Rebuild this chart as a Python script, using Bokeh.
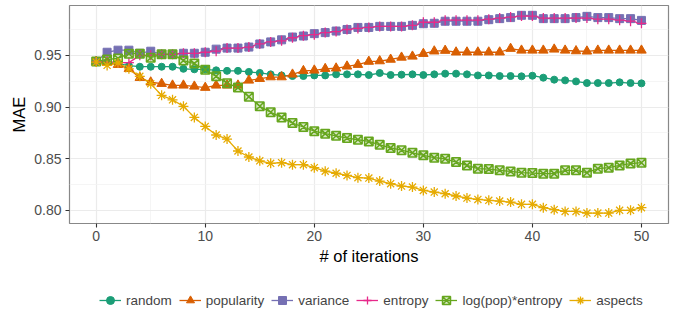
from bokeh.plotting import figure
from bokeh.layouts import column
from bokeh.models import Legend, LegendItem, FixedTicker, Range1d, NumeralTickFormatter
from bokeh.embed import file_html
from bokeh.resources import INLINE

iterations = list(range(51))

random_mae = [0.944, 0.943, 0.942, 0.940, 0.939, 0.939, 0.939, 0.939, 0.937, 0.9365,
              0.9365, 0.9355, 0.935, 0.935, 0.934, 0.933, 0.9316, 0.9306, 0.930, 0.930,
              0.9306, 0.9306, 0.9316, 0.9316, 0.9316, 0.931, 0.9329, 0.931, 0.9313, 0.9316,
              0.931, 0.9316, 0.9323, 0.9323, 0.9316, 0.9306, 0.9306, 0.930, 0.930, 0.9297,
              0.9303, 0.9284, 0.9265, 0.9258, 0.9248, 0.9232, 0.9232, 0.9232, 0.9239, 0.9232,
              0.9229]
popularity_mae = [0.944, 0.943, 0.941, 0.937, 0.9284, 0.924, 0.9226, 0.921, 0.921, 0.920,
                  0.9188, 0.921, 0.921, 0.921, 0.9258, 0.9274, 0.929, 0.929, 0.9316, 0.935,
                  0.9355, 0.937, 0.9375, 0.9394, 0.941, 0.944, 0.9445, 0.946, 0.948, 0.949,
                  0.9516, 0.954, 0.9546, 0.953, 0.953, 0.953, 0.953, 0.953, 0.9565, 0.9548,
                  0.9548, 0.9548, 0.9558, 0.9548, 0.9542, 0.9539, 0.9548, 0.9548, 0.9548, 0.9548,
                  0.9548]
variance_mae = [0.944, 0.953, 0.955, 0.955, 0.952, 0.954, 0.951, 0.951, 0.952, 0.952,
                0.953, 0.956, 0.957, 0.957, 0.958, 0.961, 0.963, 0.965, 0.9677, 0.9687,
                0.971, 0.972, 0.9735, 0.975, 0.977, 0.977, 0.978, 0.978, 0.978, 0.979,
                0.9806, 0.981, 0.983, 0.983, 0.983, 0.983, 0.9845, 0.9855, 0.9865, 0.9887,
                0.9887, 0.9855, 0.9855, 0.9855, 0.9865, 0.9877, 0.9865, 0.9865, 0.9855, 0.9855,
                0.9838]
entropy_mae = [0.944, 0.944, 0.943, 0.943, 0.950, 0.950, 0.951, 0.951, 0.952, 0.952,
               0.953, 0.954, 0.957, 0.957, 0.958, 0.961, 0.963, 0.964, 0.967, 0.969,
               0.970, 0.972, 0.973, 0.975, 0.976, 0.977, 0.978, 0.978, 0.978, 0.979,
               0.982, 0.982, 0.984, 0.984, 0.984, 0.984, 0.985, 0.986, 0.987, 0.988,
               0.988, 0.986, 0.986, 0.986, 0.986, 0.986, 0.985, 0.985, 0.984, 0.983,
               0.981]
logpop_entropy_mae = [0.944, 0.946, 0.947, 0.9516, 0.9516, 0.9477, 0.951, 0.951, 0.945, 0.942,
                      0.936, 0.9297, 0.923, 0.9188, 0.910, 0.9007, 0.895, 0.890, 0.8845, 0.8807,
                      0.8767, 0.8743, 0.8722, 0.870, 0.8684, 0.8668, 0.8635, 0.8605, 0.8583, 0.8558,
                      0.8533, 0.851, 0.850, 0.8468, 0.8436, 0.8404, 0.8400, 0.8388, 0.8378, 0.8365,
                      0.8362, 0.8356, 0.8356, 0.8388, 0.8388, 0.8365, 0.8404, 0.8414, 0.8436, 0.8453,
                      0.8462]
aspects_mae = [0.9435, 0.9403, 0.9426, 0.937, 0.9297, 0.9226, 0.9113, 0.907, 0.9007, 0.890,
               0.8813, 0.873, 0.869, 0.8575, 0.8517, 0.848, 0.8456, 0.8462, 0.8443, 0.8443,
               0.8414, 0.838, 0.836, 0.8339, 0.8317, 0.8313, 0.8284, 0.8259, 0.8236, 0.8226,
               0.8194, 0.8178, 0.8162, 0.814, 0.812, 0.8107, 0.8098, 0.8091, 0.8081, 0.8059,
               0.8059, 0.8027, 0.8008, 0.7991, 0.7991, 0.7975, 0.7975, 0.7975, 0.8001, 0.8001,
               0.8027]

series_names = ["random", "popularity", "variance", "entropy", "log(pop)*entropy", "aspects"]
series_values = [random_mae, popularity_mae, variance_mae, entropy_mae, logpop_entropy_mae, aspects_mae]
colors = ["#1B9E77", "#D95F02", "#7570B3", "#E7298A", "#66A61E", "#E6AB02"]
markers = ["circle", "triangle", "square", "cross", "square_x", "asterisk"]
sizes = [7, 9.5, 8, 10, 8.5, 10]

x_ticks = [0, 10, 20, 30, 40, 50]
y_ticks = [0.80, 0.85, 0.90, 0.95]

FONT = "Liberation Sans"


def style_marker(fig, xs, ys, c, m, s):
    if m == "square_x":
        return fig.scatter(xs, ys, marker=m, size=s, line_color=c, line_width=1.5,
                           fill_color=c, fill_alpha=0.25)
    if m in ("cross", "asterisk"):
        return fig.scatter(xs, ys, marker=m, size=s, line_color=c, line_width=1.3)
    return fig.scatter(xs, ys, marker=m, size=s, line_color=c, fill_color=c)


p = figure(output_backend="svg", toolbar_location=None,
           width=670, height=277,
           x_range=Range1d(-2.448, 52.48), y_range=Range1d(0.7874, 0.9982),
           min_border_left=69, min_border_right=2, min_border_top=5, min_border_bottom=54,
           x_axis_label="# of iterations", y_axis_label="MAE")

p.background_fill_color = "white"
p.border_fill_color = "white"
p.outline_line_color = "#888888"
p.outline_line_width = 1.2

p.xaxis.ticker = FixedTicker(ticks=x_ticks, minor_ticks=[5, 15, 25, 35, 45])
p.yaxis.ticker = FixedTicker(ticks=y_ticks, minor_ticks=[0.825, 0.875, 0.925, 0.975])
p.yaxis.formatter = NumeralTickFormatter(format="0.00")

for g in (p.xgrid, p.ygrid):
    g.grid_line_color = "#EBEBEB"
    g.grid_line_width = 1.2
    g.minor_grid_line_color = "#F2F2F2"
    g.minor_grid_line_width = 0.8

for ax in (p.xaxis, p.yaxis):
    ax.axis_line_color = None
    ax.major_tick_line_color = "#333333"
    ax.major_tick_line_width = 1.1
    ax.major_tick_out = 4
    ax.major_tick_in = 0
    ax.minor_tick_line_color = None
    ax.major_label_text_font = FONT
    ax.major_label_text_font_size = "14px"
    ax.major_label_text_color = "#4D4D4D"
    ax.axis_label_text_font = FONT
    ax.axis_label_text_font_size = "16.5px"
    ax.axis_label_text_font_style = "normal"
    ax.axis_label_text_color = "black"
p.xaxis.major_label_standoff = 3
p.xaxis.axis_label_standoff = 3
p.yaxis.major_label_standoff = 4
p.yaxis.axis_label_standoff = 3

for vals, c in zip(series_values, colors):
    p.line(iterations, vals, line_color=c, line_width=1.3)
for vals, c, m, s in zip(series_values, colors, markers, sizes):
    style_marker(p, iterations, vals, c, m, s)

# legend strip below the plot (its renderers lie outside its visible ranges)
lg = figure(output_backend="svg", toolbar_location=None, width=670, height=33,
            x_range=Range1d(-30, -20), y_range=Range1d(0, 1), min_border=0)
lg.outline_line_color = None
lg.axis.visible = False
lg.grid.visible = False
lg.background_fill_color = "white"
lg.border_fill_color = "white"

items = []
for n, vals, c, m, s in zip(series_names, series_values, colors, markers, sizes):
    lr = lg.line(iterations, vals, line_color=c, line_width=1.3)
    pr = style_marker(lg, iterations, vals, c, m, s)
    items.append(LegendItem(label=n, renderers=[lr, pr]))

legend = Legend(items=items, orientation="horizontal", location=(30, 0),
                label_text_font=FONT, label_text_font_size="13.5px",
                glyph_width=22, glyph_height=20, label_standoff=5, spacing=7,
                padding=0, margin=0, border_line_color=None, background_fill_alpha=0)
lg.add_layout(legend, "center")

layout = column(p, lg, spacing=0)
open("out.html", "w").write(file_html(layout, INLINE))
